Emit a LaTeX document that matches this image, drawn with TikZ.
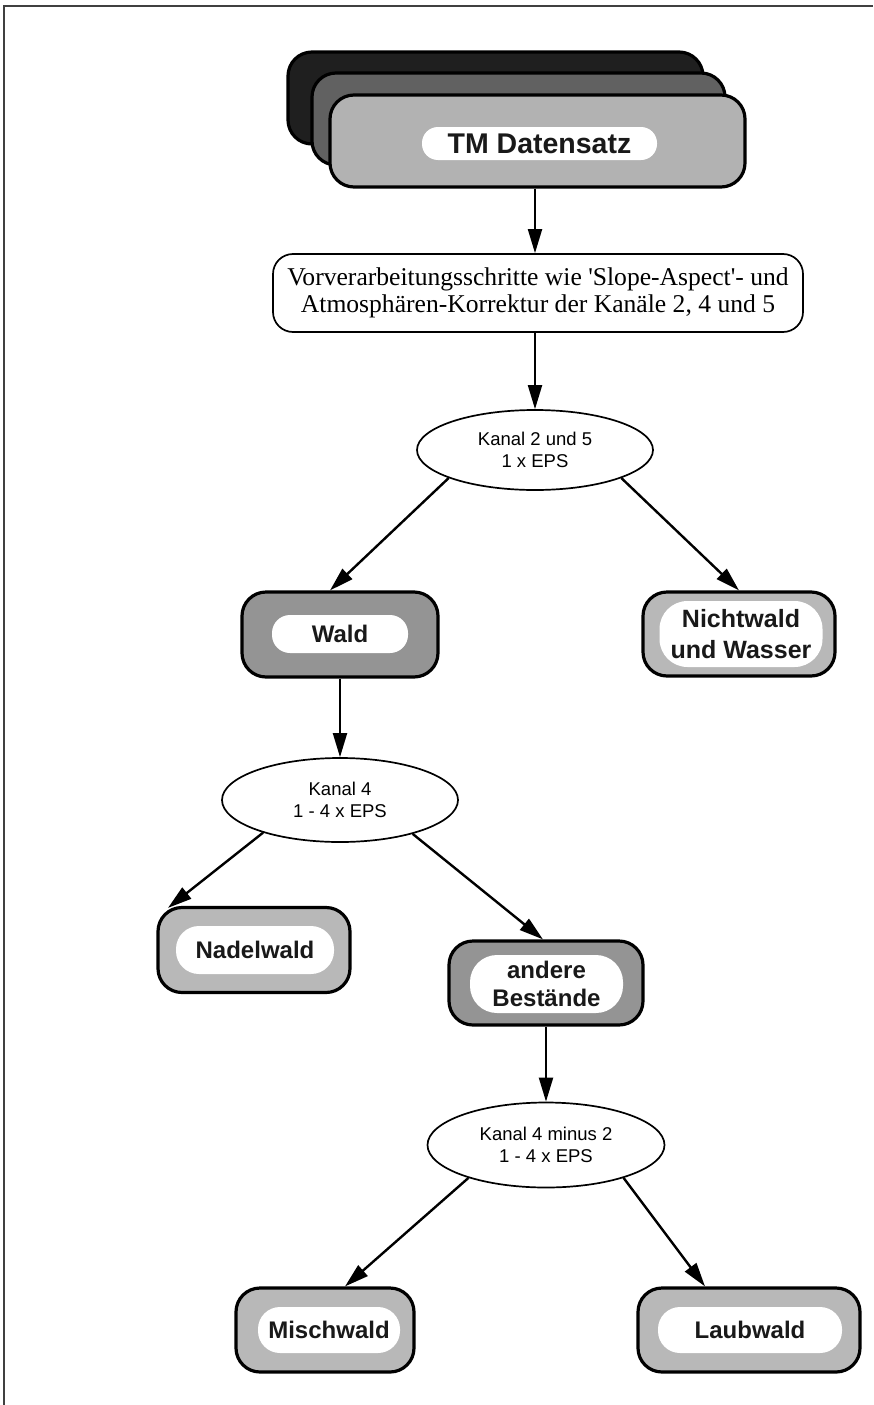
\documentclass[tikz,border=0pt]{standalone}
\usepackage{fontspec}
\setmainfont{Liberation Serif}[Ligatures=TeXOff]
\setsansfont{Liberation Sans}
\usetikzlibrary{arrows.meta,calc,shapes.geometric}
\begin{document}
\begin{tikzpicture}[x=1pt,y=-1pt,
  box/.style={draw=black,line width=3.2pt,rounded corners=24pt,inner sep=0pt,minimum height=84pt},
  pill/.style={fill=white,inner sep=0pt,align=center,text=black!90,
    font=\sffamily\bfseries\fontsize{24}{28}\selectfont},
  ell/.style={ellipse,draw,line width=1.7pt,inner sep=0pt,align=center,
    font=\sffamily\fontsize{18.5}{22}\selectfont},
  arr/.style={line width=2.4pt,-{Triangle[length=24pt,width=14pt]}},
  varr/.style={line width=2pt,-{Triangle[length=24pt,width=14pt]}},
  darkfill/.style={fill=black!42},
  lightfill/.style={fill=black!28},
]
\useasboundingbox (0,0) rectangle (873,1405);
\draw[line width=2pt,black!75] (4,1405) -- (4,6) -- (873,6);

% TM stack
\node[box,fill=black!88,minimum width=415pt,minimum height=92pt] (tmback) at (495.5,98) {};
\node[box,fill=black!62,minimum width=413pt,minimum height=92pt] (tmmid) at (518.5,119) {};
\node[box,fill=black!30,minimum width=415pt,minimum height=92pt] (tm) at (537.5,141) {};
\node[pill,minimum width=235pt,minimum height=33pt,rounded corners=16pt,
  font=\sffamily\bfseries\fontsize{28.5}{30}\selectfont] (tmpill) at (539.5,143.5) {TM Datensatz};

% preprocessing
\node[draw,line width=1.7pt,rounded corners=20pt,minimum width=530pt,minimum height=78pt,
  inner sep=0pt,align=center,font=\fontsize{25.6}{27}\selectfont] (pre) at (538,293)
  {Vorverarbeitungsschritte wie 'Slope-Aspect'- und\\Atmosphären-Korrektur der Kanäle 2, 4 und 5};

\node[ell,minimum width=236pt,minimum height=80pt] (e1) at (535,450) {Kanal 2 und 5\\1 x EPS};

\node[box,darkfill,minimum width=196pt,minimum height=85pt] (wald) at (340,634.5) {};
\node[pill,minimum width=136pt,minimum height=38pt,rounded corners=18pt] (waldp) at (340,634) {Wald};

\node[box,lightfill,minimum width=192pt,minimum height=84pt] (nicht) at (739,634) {};
\node[pill,minimum width=163pt,minimum height=66pt,rounded corners=28pt,
  font=\sffamily\bfseries\fontsize{25}{31}\selectfont] (nichtp) at (741,634) {Nichtwald\\und Wasser};

\node[ell,minimum width=236pt,minimum height=84pt] (e2) at (340,800) {Kanal 4\\1 - 4 x EPS};

\node[box,lightfill,minimum width=192pt,minimum height=85pt] (nadel) at (254,950) {};
\node[pill,minimum width=158pt,minimum height=48pt,rounded corners=23pt] (nadelp) at (255,950) {Nadelwald};

\node[box,darkfill,minimum width=194pt,minimum height=84pt] (andere) at (546,983) {};
\node[pill,minimum width=153pt,minimum height=58pt,rounded corners=27pt] (anderep) at (546.5,984) {andere\\Bestände};

\node[ell,minimum width=237pt,minimum height=85pt] (e3) at (546,1145) {Kanal 4 minus 2\\1 - 4 x EPS};

\node[box,lightfill,minimum width=178pt,minimum height=84pt] (misch) at (325,1330) {};
\node[pill,minimum width=142pt,minimum height=46pt,rounded corners=22pt] (mischp) at (329,1330) {Mischwald};

\node[box,lightfill,minimum width=222pt,minimum height=84pt] (laub) at (749,1330) {};
\node[pill,minimum width=184pt,minimum height=46pt,rounded corners=22pt] (laubp) at (750,1330) {Laubwald};

% connectors
\draw[varr] (e1.north |- tm.south) -- (e1.north |- pre.north);
\draw[varr] (pre.south -| e1.north) -- (e1.north);
\draw[arr] (e1.198) -- ($(wald.north)+(-10,0)$);
\draw[arr] (e1.342) -- (nicht.north);
\draw[varr] (wald.south) -- (e2.north);
\draw[arr] (e2.203) -- ($(nadel.north)+(-86,2)$);
\draw[arr] (e2.335) -- ($(andere.north)+(-3,0)$);
\draw[varr] (andere.south) -- (e3.north);
\draw[arr] (e3.203) -- ($(misch.north)+(20,0)$);
\draw[arr] (e3.337) -- ($(laub.north)+(-44,0)$);
\end{tikzpicture}
\end{document}
